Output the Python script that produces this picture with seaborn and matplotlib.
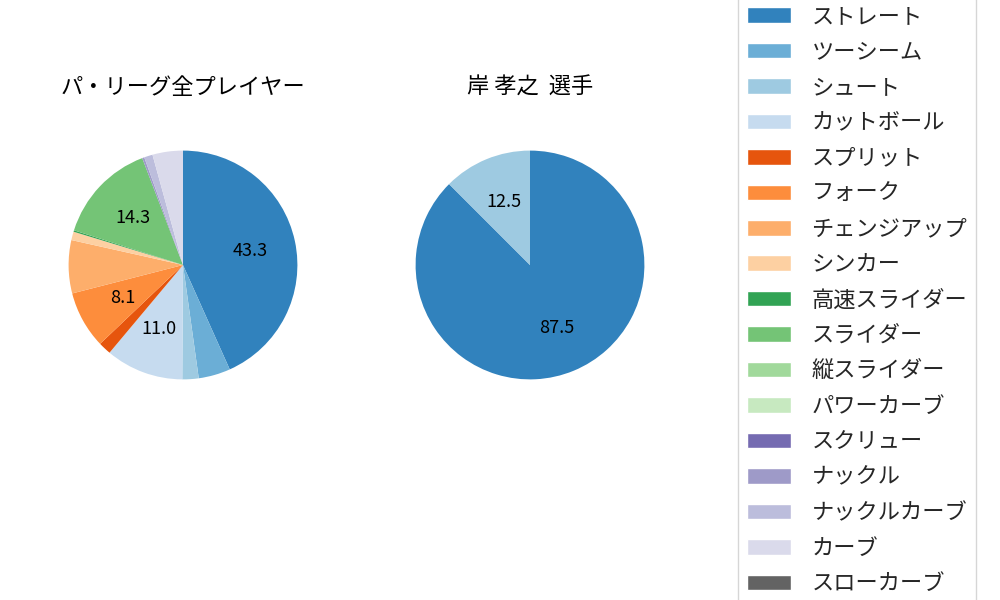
import matplotlib
matplotlib.use("Agg")
import matplotlib.pyplot as plt
import seaborn as sns

sns.set_theme(style="white")
plt.rcParams['font.family'] = ['Noto Sans CJK JP', 'DejaVu Sans']

pitch_types = ["ストレート","ツーシーム","シュート","カットボール","スプリット","フォーク","チェンジアップ","シンカー","高速スライダー","スライダー","縦スライダー","パワーカーブ","スクリュー","ナックル","ナックルカーブ","カーブ","スローカーブ"]
league_vals = [43.3,4.5,2.3,11.0,1.8,8.1,7.5,1.2,0.2,14.3,0.0,0.0,0.0,0.3,1.2,4.3,0.0]
player_vals = [87.5,0,12.5,0,0,0,0,0,0,0,0,0,0,0,0,0,0]
titles = ["パ・リーグ全プレイヤー","岸 孝之  選手"]

colors = sns.color_palette("tab20c", 20)[:17]

fig = plt.figure(figsize=(10,6), dpi=100)
axes = [fig.add_axes([0.040,0.32,0.286,0.4767]), fig.add_axes([0.387,0.32,0.286,0.4767])]
for ax, vals, t in zip(axes, [league_vals, player_vals], titles):
    ax.pie(vals, colors=colors, startangle=90, counterclock=False,
           autopct=lambda p: f"{p:.1f}" if p >= 8 else "",
           pctdistance=0.6, textprops={'fontsize':13, 'color':'black'},
           wedgeprops={'linewidth':0})
    ax.set_title(t, fontsize=16, pad=20, color='black')
    ax.set_aspect('equal')

from matplotlib.patches import Patch
handles = [Patch(facecolor=c) for c in colors]
fig.legend(handles, pitch_types, loc='center left', bbox_to_anchor=(0.727,0.50),
           fontsize=16, frameon=True, edgecolor='#cccccc', labelspacing=0.56,
           handlelength=2.0, handletextpad=0.9)
fig.savefig("out.png", dpi=100)
